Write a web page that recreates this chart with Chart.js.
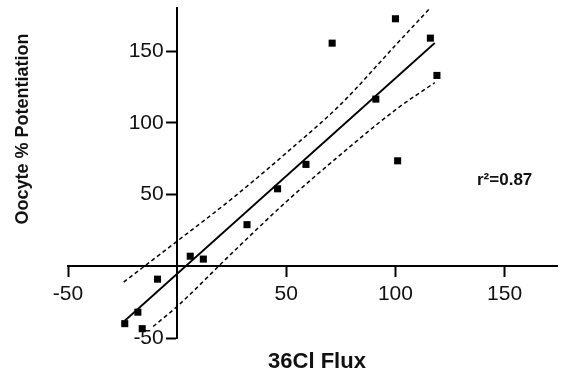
<!DOCTYPE html>
<html>
<head>
<meta charset="utf-8">
<script src="https://cdn.jsdelivr.net/npm/chart.js@4"></script>
<style>
  html, body { margin: 0; padding: 0; background: #fff; }
  #wrap { width: 562px; height: 376px; position: relative; }
</style>
</head>
<body>
<div id="wrap"><canvas id="fluxChart"></canvas></div>
<script>
// measured points (36Cl flux vs oocyte potentiation)
const fluxX = [-24, -18, -16, -9, 6, 12, 32, 46, 59, 71, 91, 100, 101, 116, 119];
const potY = [-40, -32, -43.5, -9, 7, 5, 29, 54, 71, 155.5, 116.5, 172.5, 73.5, 159, 133];

// regression line ends
const fitX = [-24, 118];
const fitY = [-38, 155.6];

// 95% band
const upperX = [-24.5, 0, 25, 50, 75, 100, 115.3];
const upperY = [-11, 17.5, 47, 79, 113, 154, 179];
const lowerX = [-11, 0, 25, 50, 75, 100, 118];
const lowerY = [-42, -28, 9, 45, 78, 109, 128];

const xTicks = [-50, 50, 100, 150];
const yTicks = [-50, 50, 100, 150];

const xTitle = "36Cl Flux";
const yTitle = "Oocyte % Potentiation";
const r2Label = "r²=0.87";

const toPts = (xs, ys) => xs.map((x, i) => ({ x: x, y: ys[i] }));

const textPlugin = {
  id: 'textPlugin',
  afterDraw(chart) {
    const ctx = chart.ctx;
    ctx.save();
    ctx.fillStyle = '#111';
    ctx.textAlign = 'center';
    ctx.textBaseline = 'middle';
    ctx.font = 'bold 22px "Liberation Sans", Arial, sans-serif';
    ctx.fillText(xTitle, 317, 362);
    ctx.translate(23, 129);
    ctx.rotate(-Math.PI / 2);
    ctx.font = 'bold 18px "Liberation Sans", Arial, sans-serif';
    ctx.fillText(yTitle, 0, 0);
    ctx.restore();

    ctx.save();
    ctx.fillStyle = '#111';
    ctx.textAlign = 'left';
    ctx.textBaseline = 'middle';
    ctx.font = 'bold 17px "Liberation Sans", Arial, sans-serif';
    ctx.fillText(r2Label, 477, 180);
    ctx.restore();
  }
};

function axisOpts(tickList, extra, tickExtra) {
  return Object.assign({
    type: 'linear',
    afterBuildTicks: (scale) => {
      scale.ticks = tickList.map(v => ({ value: v }));
    },
    ticks: Object.assign({
      color: '#111',
      font: { family: '"Liberation Sans", Arial, sans-serif', size: 21 },
      padding: 5,
      autoSkip: false,
      maxRotation: 0
    }, tickExtra),
    grid: {
      display: true,
      drawOnChartArea: false,
      drawTicks: true,
      tickLength: 10,
      tickWidth: 2,
      tickColor: '#000'
    },
    border: { display: true, color: '#000', width: 2 }
  }, extra);
}

const ctx = document.getElementById('fluxChart').getContext('2d');
new Chart(ctx, {
  type: 'scatter',
  data: {
    datasets: [
      {
        label: 'data',
        data: toPts(fluxX, potY),
        pointStyle: 'rect',
        pointRadius: 5,
        pointHoverRadius: 5,
        backgroundColor: '#000',
        borderWidth: 0,
        showLine: false,
        order: 0
      },
      {
        label: 'fit',
        data: toPts(fitX, fitY),
        showLine: true,
        pointRadius: 0,
        borderColor: '#000',
        borderWidth: 1.8,
        order: 1
      },
      {
        label: 'upper',
        data: toPts(upperX, upperY),
        showLine: true,
        pointRadius: 0,
        borderColor: '#000',
        borderWidth: 1.5,
        borderDash: [4, 3],
        cubicInterpolationMode: 'monotone',
        order: 2
      },
      {
        label: 'lower',
        data: toPts(lowerX, lowerY),
        showLine: true,
        pointRadius: 0,
        borderColor: '#000',
        borderWidth: 1.5,
        borderDash: [4, 3],
        cubicInterpolationMode: 'monotone',
        order: 2
      }
    ]
  },
  options: {
    responsive: true,
    maintainAspectRatio: false,
    animation: false,
    layout: { padding: { left: 68, right: 1, top: 8, bottom: 38 } },
    plugins: {
      legend: { display: false },
      tooltip: { enabled: false }
    },
    scales: {
      x: axisOpts(xTicks, {
        min: -50, max: 174,
        position: { y: 0 },
        afterFit: (scale) => {
          scale.height = 0;
          scale.paddingLeft = 0;
          scale.paddingRight = 0;
        }
      }),
      y: axisOpts(yTicks, {
        min: -50, max: 180,
        position: { x: 0 },
        afterFit: (scale) => {
          scale.width = 0;
          scale.paddingTop = 0;
          scale.paddingBottom = 0;
        }
      }, {
        // labels sit left of the tick marks
        callback: (v) => v + '\u00a0\u00a0\u200a'
      })
    }
  },
  plugins: [textPlugin]
});
</script>
</body>
</html>
